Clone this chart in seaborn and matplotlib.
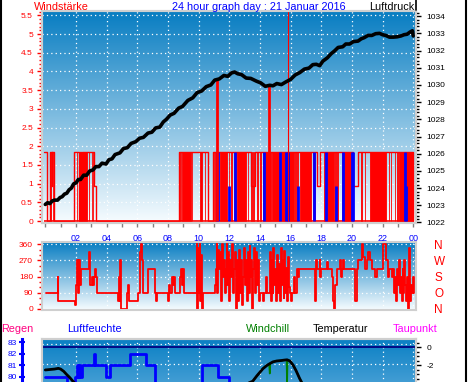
import numpy as np
import pandas as pd
import matplotlib
matplotlib.use("Agg")
import matplotlib.pyplot as plt
from matplotlib.lines import Line2D
from matplotlib.ticker import MultipleLocator
import seaborn as sns

# ---------------------------
# 1. Data (21 Jan 2016), time in hours
# ---------------------------
hour_ticks = [2, 4, 6, 8, 10, 12, 14, 16, 18, 20, 22, 24]
hour_labels = ["02", "04", "06", "08", "10", "12", "14", "16", "18", "20", "22", "00"]

# wind speed (Windstärke) step outline: value holds from t[i] to t[i+1]
WIND_HIGH = 1.85
wind_t = [-0.08, 0.14, 0.30, 0.41, 0.46, 0.56, 1.89, 2.19, 2.25, 2.30, 2.39, 3.19,
          3.30, 8.73, 10.62, 10.94, 13.40, 13.70, 17.70, 17.90, 20.10, 20.40, 24.00]
wind_v = [1.85, 0, 1.85, 0.93, 1.85, 0, 1.85, 0, 1.85, 0, 1.85, 0.93,
          0, 1.85, 0, 1.85, 0.93, 1.85, 0.93, 1.85, 0.93, 1.85, 0]
# periods where the wind flickered so fast the bars merge into a block
dense_start = [0.31, 0.50, 2.06, 2.39, 2.83, 3.02, 3.10, 8.73, 8.82, 8.90, 9.55, 10.08,
               10.40, 10.98, 11.08, 11.38, 11.95, 12.12, 12.30, 12.40, 12.50, 13.20,
               13.45, 13.55, 13.82, 14.02, 14.20, 14.80, 15.35, 15.75, 16.30, 16.45,
               16.60, 17.45, 17.55, 18.20, 18.90, 19.05, 19.35, 19.50, 20.60, 20.85,
               21.20, 22.40, 22.55, 22.80, 22.95, 23.10, 23.55]
dense_end = [0.36, 0.53, 2.08, 2.74, 2.86, 3.05, 3.12, 8.76, 8.85, 9.50, 9.60, 10.25,
             10.43, 11.01, 11.11, 11.85, 11.98, 12.16, 12.34, 12.43, 13.10, 13.23,
             13.48, 13.60, 13.86, 14.05, 14.75, 15.30, 15.70, 16.20, 16.33, 16.48,
             17.30, 17.48, 17.60, 18.80, 18.93, 19.08, 19.38, 20.10, 20.63, 20.88,
             22.20, 22.43, 22.58, 22.83, 22.98, 23.45, 24.00]
# blue bars
blue_t = [11.18, 11.28, 12.00, 12.40, 14.25, 15.30, 15.72, 15.83, 16.49, 17.53,
          18.33, 18.98, 19.41, 20.00, 20.08, 23.48, 23.55]
blue_v = [1.85, 1.85, 0.93, 1.85, 1.85, 1.85, 1.85, 1.85, 0.93, 1.85,
          1.85, 0.93, 1.85, 1.85, 1.85, 1.85, 0.93]
# gust spikes
spike_t = [11.17, 14.57, 15.80]
spike_v = [3.76, 3.63, 5.62]
wind_ticks = [0, 0.5, 1, 1.5, 2, 2.5, 3, 3.5, 4, 4.5, 5, 5.5]

# air pressure (Luftdruck), hPa
pres_t = [0.00, 0.15, 0.30, 0.45, 0.60, 0.80, 0.96, 1.10, 1.25, 1.40, 1.55, 1.70,
          1.85, 2.00, 2.15, 2.30, 2.50, 2.70, 2.90, 3.10, 3.30, 3.50, 3.70, 3.96,
          4.15, 4.35, 4.55, 4.87, 5.10, 5.35, 5.60, 5.90, 6.15, 6.40, 6.70, 6.95,
          7.20, 7.47, 7.70, 7.90, 8.15, 8.40, 8.70, 8.95, 9.30, 9.62, 9.90, 10.20,
          10.50, 10.80, 11.05, 11.35, 11.65, 11.90, 12.15, 12.35, 12.55, 12.80,
          13.10, 13.40, 13.77, 14.05, 14.35, 14.64, 14.85, 15.10, 15.40, 15.70,
          16.00, 16.30, 16.60, 16.90, 17.20, 17.45, 17.68, 17.90, 18.10, 18.40,
          18.65, 18.87, 19.10, 19.40, 19.60, 19.85, 20.10, 20.40, 20.60, 20.80,
          21.05, 21.30, 21.55, 21.80, 22.00, 22.20, 22.45, 22.70, 22.95, 23.20,
          23.40, 23.60, 23.80, 23.95, 24.00]
pres_v = [1023.05, 1023.15, 1023.10, 1023.25, 1023.30, 1023.30, 1023.45, 1023.50,
          1023.65, 1023.70, 1023.90, 1024.00, 1024.25, 1024.30, 1024.50, 1024.50,
          1024.75, 1024.75, 1025.00, 1025.05, 1025.25, 1025.25, 1025.45, 1025.40,
          1025.65, 1025.70, 1025.95, 1026.05, 1026.30, 1026.35, 1026.60, 1026.70,
          1026.90, 1026.95, 1027.20, 1027.25, 1027.50, 1027.55, 1027.85, 1028.00,
          1028.25, 1028.35, 1028.65, 1028.75, 1029.10, 1029.25, 1029.55, 1029.65,
          1029.90, 1030.00, 1030.28, 1030.35, 1030.55, 1030.50, 1030.70, 1030.75,
          1030.65, 1030.60, 1030.40, 1030.38, 1030.22, 1030.12, 1029.92, 1029.98,
          1029.95, 1030.08, 1030.02, 1030.18, 1030.32, 1030.58, 1030.72, 1030.92,
          1030.98, 1031.18, 1031.20, 1031.12, 1031.38, 1031.58, 1031.82, 1031.98,
          1032.18, 1032.22, 1032.38, 1032.38, 1032.52, 1032.55, 1032.68, 1032.75,
          1032.88, 1032.88, 1032.98, 1033.00, 1032.92, 1032.88, 1032.78, 1032.78,
          1032.80, 1032.85, 1032.92, 1032.95, 1033.08, 1033.15, 1032.85]
pres_ticks = [1022, 1023, 1024, 1025, 1026, 1027, 1028, 1029, 1030, 1031, 1032, 1033, 1034]

# wind direction, degrees (step)
dir_t = [0.05, 0.80, 0.84, 1.96, 2.00, 2.05, 2.11, 2.17, 2.26, 2.33, 2.87, 2.90,
         3.02, 3.09, 3.15, 3.24, 3.30, 3.39, 4.76, 4.82, 4.87, 4.90, 4.94, 5.31,
         5.34, 5.37, 5.43, 6.07, 6.18, 6.24, 6.29, 6.35, 6.72, 7.16, 7.22, 7.27,
         8.03, 8.08, 8.16, 8.24, 8.30, 8.38, 8.46, 8.79, 8.86, 8.93, 9.00, 9.06,
         9.87, 9.92, 9.97, 10.02, 10.07, 10.12, 10.17, 10.22, 10.27, 11.07, 11.12,
         11.17, 11.22, 11.27, 11.32, 11.40, 11.46, 11.52, 11.58, 11.64, 11.70,
         11.76, 11.82, 11.88, 11.94, 12.00, 12.06, 12.12, 12.18, 12.24, 12.30,
         12.36, 12.42, 12.48, 12.54, 12.60, 12.66, 12.72, 12.78, 12.84, 12.90,
         12.96, 13.02, 13.08, 13.14, 13.20, 13.26, 13.32, 13.38, 13.44, 13.50,
         13.56, 13.62, 13.68, 13.74, 13.80, 13.86, 13.92, 14.00, 14.20, 14.28,
         14.40, 14.46, 14.65, 14.70, 14.76, 14.82, 14.88, 14.94, 15.00, 15.06,
         15.12, 15.18, 15.24, 15.30, 15.36, 15.42, 15.48, 15.54, 15.60, 15.66,
         15.72, 15.78, 15.84, 15.90, 15.96, 16.05, 16.10, 16.22, 16.28, 16.40,
         16.50, 16.55, 17.59, 17.64, 17.70, 17.90, 17.95, 18.00, 18.35, 18.45,
         18.70, 18.79, 18.86, 18.92, 19.00, 19.22, 19.28, 19.35, 19.45, 19.50,
         20.20, 20.30, 20.42, 20.64, 20.72, 20.85, 20.96, 21.07, 21.20, 21.29,
         21.51, 21.62, 22.05, 22.22, 22.35, 22.45, 22.60, 22.70, 22.76, 22.82,
         22.88, 22.94, 23.00, 23.06, 23.12, 23.18, 23.24, 23.30, 23.36, 23.42,
         23.48, 23.54, 23.60, 23.66, 23.72, 23.78, 23.84, 23.90, 23.96, 24.05]
dir_v = [90, 180, 45, 20, 135, 270, 90, 270, 135, 225, 315, 135,
         180, 135, 180, 225, 180, 90, 45, 180, 45, 270, 0, 45,
         90, 135, 45, 90, 315, 360, 270, 90, 225, 90, 45, 90,
         45, 135, 90, 180, 135, 180, 90, 180, 225, 135, 225, 90,
         360, 0, 340, 90, 360, 45, 300, 0, 90, 135, 225,
         360, 90, 330, 225, 315, 45, 360, 180, 270, 90,
         225, 360, 135, 315, 45, 270, 180, 360, 90, 225,
         315, 0, 270, 135, 45, 330, 90, 270, 20, 180,
         340, 135, 270, 45, 315, 90, 350, 180, 270, 0,
         225, 340, 90, 315, 135, 270, 45, 90, 45, 90,
         180, 90, 315, 45, 270, 90, 340, 135, 225, 45,
         300, 90, 250, 45, 340, 135, 270, 60, 320, 90,
         230, 45, 290, 120, 90, 45, 90, 180, 90, 225,
         180, 225, 45, 270, 225, 270, 180, 225, 260, 225,
         180, 45, 0, 135, 225, 270, 180, 225, 270, 225,
         45, 225, 270, 360, 290, 225, 270, 315, 270, 225,
         180, 225, 360, 270, 180, 225, 180, 225, 90, 180,
         45, 225, 135, 270, 90, 180, 45, 225, 90, 270,
         135, 45, 180, 0, 340, 45, 135, 90, 180, 90]
dir_ticks = [0, 90, 180, 270, 360]
dir_letters = ["N", "O", "S", "W", "N"]

# humidity (Luftfeuchte), %, step
hum_t = [0.00, 1.39, 1.93, 2.04, 2.12, 2.22, 2.28, 2.37, 3.20, 3.27, 3.95, 4.21,
         5.52, 6.60, 7.15, 8.80, 10.19, 11.27, 11.99, 13.50, 16.00, 19.00, 22.00, 24.00]
hum_v = [80, 78, 80, 81, 80, 81, 80, 81, 82, 81, 80, 81,
         82, 81, 78, 77, 81, 80, 77, 74, 73, 75, 77, 77]
hum_ticks = [80, 81, 82, 83]

# temperature and windchill, deg C
temp_t = [0.0, 0.3, 0.6, 0.85, 1.0, 1.2, 1.39, 1.6, 1.8, 2.04, 2.5, 3.5, 5.0, 7.0,
          9.0, 11.0, 12.5, 13.2, 13.53, 13.8, 14.0, 14.2, 14.45, 14.64, 14.85,
          15.1, 15.4, 15.6, 15.77, 15.95, 16.16, 16.35, 16.59, 16.8, 17.5, 19.0,
          21.0, 23.0, 24.0]
temp_v = [-2.55, -2.50, -2.45, -2.37, -2.45, -2.70, -3.05, -3.40, -3.80, -4.20,
          -4.60, -5.0, -5.4, -5.8, -5.6, -5.0, -4.5, -4.05, -3.8, -3.2, -2.8,
          -2.4, -2.05, -1.85, -1.65, -1.55, -1.50, -1.45, -1.42, -1.55, -2.0,
          -2.6, -3.5, -4.2, -5.0, -5.5, -6.0, -6.4, -6.6]
wc_t = [0.0, 2.0, 6.0, 10.0, 13.0, 13.53, 14.0, 14.2, 14.45, 14.60, 14.64, 14.68,
        14.85, 15.1, 15.4, 15.6, 15.74, 15.77, 15.80, 15.95, 16.16, 16.35, 16.59,
        17.5, 21.0, 24.0]
wc_v = [-4.6, -5.5, -7.0, -7.5, -5.5, -3.8, -2.8, -2.4, -2.05, -1.87, -2.95, -1.83,
        -1.65, -1.55, -1.50, -1.45, -1.43, -4.6, -1.42, -1.55, -2.0, -2.6, -3.5,
        -6.0, -7.5, -8.0]
temp_ticks = [-2, 0]

# ---------------------------
# 2. Figure layout (pixel boxes, 470 x 382)
# ---------------------------
sns.set_theme(style="white")
plt.rcParams["font.family"] = ["Liberation Sans", "DejaVu Sans"]

W, H = 470, 382
fig = plt.figure(figsize=(W / 100, H / 100), dpi=100)
fig.patch.set_facecolor("white")


def px_box(x0, y0, x1, y1):
    return [x0 / W, 1 - y1 / H, (x1 - x0) / W, (y1 - y0) / H]


def gradient(ax, top, bottom):
    t = np.linspace(0, 1, 256)[:, None]
    img = np.array(top) + (np.array(bottom) - np.array(top)) * t
    ax.imshow(img[:, None, :], extent=(0, 1, 0, 1), transform=ax.transAxes,
              aspect="auto", zorder=0, interpolation="bilinear")


def frame(ax):
    for sp in ax.spines.values():
        sp.set_color("#cfcfcf")
        sp.set_linewidth(1.5)


GRID = dict(color="white", linestyle=(0, (1, 2.5)), linewidth=0.9)
XLIM = (-0.215, 24.18)
TOP_BLUE = (0.03, 0.49, 0.76)

# ---------------------------
# 3. Top panel: wind speed + pressure
# ---------------------------
ax1 = fig.add_axes(px_box(42, 11, 416, 223))
gradient(ax1, TOP_BLUE, (0.97, 0.99, 1.0))
wind = pd.DataFrame({"t": wind_t, "v": wind_v})
sns.lineplot(data=wind, x="t", y="v", drawstyle="steps-post", color="red",
             linewidth=1, estimator=None, ax=ax1)
ax1.hlines(0, wind_t[0], wind_t[-1], color="red", linewidth=1.2)
for s, e in zip(dense_start, dense_end):
    ax1.fill_between([s, e], 0, WIND_HIGH, facecolor="red", edgecolor="red", linewidth=0.6)
ax1.vlines(blue_t, 0, blue_v, color="#0000ff", linewidth=2)
ax1.vlines(spike_t, 0, spike_v, color="red", linewidth=[2, 2, 0.8])
ax1.set_ylim(-0.053, 5.615)
ax1.set_yticks(wind_ticks, [f"{v:g}" for v in wind_ticks])
ax1.yaxis.set_minor_locator(MultipleLocator(0.1))
ax1.set_xticks(hour_ticks, hour_labels)
ax1.xaxis.set_minor_locator(MultipleLocator(1))
ax1.grid(True, which="major", **GRID)
ax1.set_axisbelow(True)
ax1.tick_params(axis="y", which="major", left=True, length=3.5, width=1, pad=3,
                colors="red", labelsize=6)
ax1.tick_params(axis="y", which="minor", left=True, length=2, width=1, colors="red")
ax1.tick_params(axis="x", which="both", bottom=True, length=3, width=1, color="#808080",
                labelcolor="#0000ff", labelsize=6.5, pad=5)
ax1.set_xlabel("")
ax1.set_ylabel("")
frame(ax1)

ax1p = ax1.twinx()
sns.lineplot(x=pres_t, y=pres_v, color="black", linewidth=2.6, estimator=None, ax=ax1p)
ax1p.set_ylim(1021.97, 1034.30)
ax1p.set_yticks(pres_ticks, [str(p) for p in pres_ticks])
ax1p.yaxis.set_minor_locator(MultipleLocator(0.2))
ax1p.tick_params(axis="y", which="major", right=True, length=3.5, width=1, pad=4,
                 colors="black", labelsize=6)
ax1p.tick_params(axis="y", which="minor", right=True, length=2, width=1, colors="black")
ax1p.set_ylabel("")
frame(ax1p)

# ---------------------------
# 4. Middle panel: wind direction
# ---------------------------
ax2 = fig.add_axes(px_box(42, 242, 416, 310))
gradient(ax2, TOP_BLUE, (0.97, 0.99, 1.0))
sns.lineplot(x=dir_t, y=dir_v, drawstyle="steps-post", color="red", linewidth=1.3,
             estimator=None, ax=ax2)
ax2.set_ylim(-5.6, 372.8)
ax2.set_yticks(dir_ticks, [str(d) for d in dir_ticks])
ax2.yaxis.set_minor_locator(MultipleLocator(30))
ax2.set_xticks(hour_ticks)
ax2.grid(True, which="major", **GRID)
ax2.set_axisbelow(True)
ax2.tick_params(axis="x", length=0, labelbottom=False)
ax2.tick_params(axis="y", which="major", left=True, length=3.5, width=1, pad=3,
                colors="red", labelsize=6)
ax2.tick_params(axis="y", which="minor", left=True, length=2, width=1, colors="red")
ax2.set_xlabel("")
ax2.set_ylabel("")
frame(ax2)

ax2r = ax2.twinx()
ax2r.set_ylim(-5.6, 372.8)
ax2r.set_yticks(dir_ticks, dir_letters)
ax2r.tick_params(axis="y", right=True, length=0, pad=13, labelcolor="red", labelsize=8.5)
for sp in ax2r.spines.values():
    sp.set_visible(False)

# ---------------------------
# 5. Bottom panel: humidity, temperature, windchill (cut off by the image edge)
# ---------------------------
ax3 = fig.add_axes(px_box(42, 339, 416, 439))
gradient(ax3, (0.04, 0.50, 0.77), (0.55, 0.77, 0.91))
for g in [82.83, 81.1]:
    ax3.axhline(g, zorder=0.5, **GRID)
sns.lineplot(x=hum_t, y=hum_v, drawstyle="steps-post", color="#0000ff", linewidth=2,
             estimator=None, ax=ax3)
ax3.set_ylim(74.62, 83.26)
ax3.set_yticks(hum_ticks, [str(h) for h in hum_ticks])
ax3.set_xticks(hour_ticks)
ax3.grid(True, axis="x", **GRID)
ax3.grid(False, axis="y")
ax3.set_axisbelow(True)
ax3.tick_params(axis="x", length=0, labelbottom=False)
ax3.tick_params(axis="y", left=True, direction="inout", length=5, width=1.5, pad=1,
                colors="#0000ff", labelsize=6)
ax3.set_xlabel("")
ax3.set_ylabel("")
frame(ax3)
ax3.spines["left"].set_position(("outward", 14.4))
ax3.spines["left"].set_color("#0000ff")
ax3.spines["left"].set_linewidth(2.2)

ax3t = ax3.twinx()
ax3t.axhline(0, color="#000080", linewidth=1.3)
sns.lineplot(x=wc_t, y=wc_v, color="#008000", linewidth=1.2, estimator=None, ax=ax3t)
sns.lineplot(x=temp_t, y=temp_v, color="black", linewidth=2, estimator=None, ax=ax3t)
ax3t.set_ylim(-10.22, 0.89)
ax3t.set_yticks(temp_ticks, [str(t) for t in temp_ticks])
ax3t.yaxis.set_minor_locator(MultipleLocator(0.5))
ax3t.tick_params(axis="y", which="major", right=True, length=3.5, width=1, pad=4,
                 colors="black", labelsize=6)
ax3t.tick_params(axis="y", which="minor", right=True, length=2, width=1, colors="black")
ax3t.set_ylabel("")
frame(ax3t)

for a in (ax1, ax2, ax3):
    a.set_xlim(XLIM)

# ---------------------------
# 6. Titles, headers and the outer frame
# ---------------------------
def top_text(x, y, s, color, ha="left"):
    fig.text(x / W, 1 - y / H, s, color=color, fontsize=7.8, va="baseline", ha=ha)


top_text(34, 9.5, "Windstärke", "red")
top_text(172, 9.5, "24 hour graph day : 21 Januar 2016", "#0000ff")
top_text(414, 9.5, "Luftdruck", "black", ha="right")
top_text(1, 331.5, "Regen", "#ff0080")
top_text(67, 331.5, "Luftfeuchte", "#0000ff")
top_text(246, 331.5, "Windchill", "#008000")
top_text(313, 331.5, "Temperatur", "black")
top_text(393, 331.5, "Taupunkt", "#ff00ff")

fig.add_artist(Line2D([0.8 / W] * 2, [0, 1], color="black", linewidth=1.5,
                      transform=fig.transFigure))
fig.add_artist(Line2D([465.5 / W] * 2, [0, 1], color="black", linewidth=1.5,
                      transform=fig.transFigure))
fig.add_artist(Line2D([416 / W] * 2, [1 - 10 / H, 1], color="black", linewidth=1.2,
                      transform=fig.transFigure))

fig.savefig("out.png", dpi=100)
